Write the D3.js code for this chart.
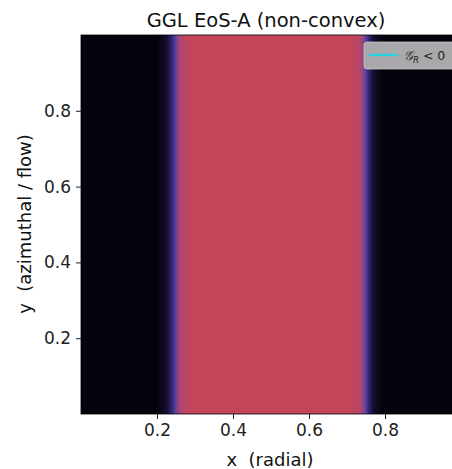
<!DOCTYPE html>
<html><head><meta charset="utf-8">
<script src="https://cdn.jsdelivr.net/npm/d3@7"></script>
<style>body{margin:0;background:#fff;} svg{display:block;font-family:"DejaVu Sans",sans-serif;} text{white-space:pre;}</style>
</head><body>
<svg id="c" width="452" height="469"></svg>
<script>
// radial profile of the field (varies only with x)
const profileX = [0, 0.2, 0.22, 0.238, 0.248, 0.256, 0.27, 0.29, 0.71, 0.73, 0.742, 0.75, 0.758, 0.774, 0.795, 1];
const profileV = [0, 0, 0.15, 0.4, 0.55, 0.7, 0.9, 1, 1, 0.9, 0.7, 0.55, 0.4, 0.15, 0, 0];
// colormap stops
const cmapV = [0, 0.25, 0.45, 0.55, 0.75, 1];
const cmapC = ["#04030c", "#191038", "#3a2a80", "#5540a0", "#a84678", "#c4455a"];
const xTicks = [0.2, 0.4, 0.6, 0.8];
const yTicks = [0.2, 0.4, 0.6, 0.8];
const titleText = "GGL EoS-A (non-convex)";
const xLabel = "x  (radial)";
const yLabel = "y  (azimuthal / flow)";
const legendLabel = "𝒢";

const svg = d3.select("#c");
const L = 81, T = 35, B = 414, R = 461;
const x = d3.scaleLinear().domain([0, 1]).range([L, R]);
const y = d3.scaleLinear().domain([0, 1]).range([B, T]);
const prof = d3.scaleLinear().domain(profileX).range(profileV).clamp(true);
const cmap = d3.scaleLinear().domain(cmapV).range(cmapC).interpolate(d3.interpolateRgb);

const defs = svg.append("defs");
const grad = defs.append("linearGradient").attr("id", "g")
  .attr("gradientUnits", "userSpaceOnUse")
  .attr("x1", x(0)).attr("x2", x(1)).attr("y1", 0).attr("y2", 0);
const N = 400;
grad.selectAll("stop").data(d3.range(N + 1)).join("stop")
  .attr("offset", i => i / N)
  .attr("stop-color", i => cmap(prof(i / N)));

svg.append("rect").attr("x", x(0)).attr("y", y(1))
  .attr("width", x(1) - x(0)).attr("height", y(0) - y(1))
  .attr("fill", "url(#g)").attr("stroke", "#000").attr("stroke-width", 0.8);

// axes
const xa = svg.append("g").attr("transform", `translate(0,${B})`)
  .call(d3.axisBottom(x).tickValues(xTicks).tickFormat(d3.format(".1f")).tickSize(5).tickPadding(5));
const ya = svg.append("g").attr("transform", `translate(${L},0)`)
  .call(d3.axisLeft(y).tickValues(yTicks).tickFormat(d3.format(".1f")).tickSize(5).tickPadding(5));
[xa, ya].forEach(a => {
  a.select(".domain").remove();
  a.selectAll("text").attr("font-size", 17).attr("fill", "#222").attr("font-family", "DejaVu Sans");
  a.selectAll("line").attr("stroke", "#222").attr("stroke-width", 1);
});

svg.append("text").attr("x", 266).attr("y", 27).attr("text-anchor", "middle")
  .attr("font-size", 19.5).attr("fill", "#111").text(titleText);
svg.append("text").attr("x", 270).attr("y", 466).attr("text-anchor", "middle")
  .attr("font-size", 18).attr("fill", "#111").text(xLabel);
svg.append("text").attr("transform", `translate(31,${224}) rotate(-90)`).attr("text-anchor", "middle")
  .attr("font-size", 18).attr("fill", "#111").text(yLabel);

// legend
const lg = svg.append("g");
lg.append("rect").attr("x", 364).attr("y", 42).attr("width", 95).attr("height", 27).attr("rx", 3)
  .attr("fill", "#a9a9ab").attr("stroke", "#c8c8c8").attr("stroke-width", 0.8);
lg.append("line").attr("x1", 369).attr("x2", 398).attr("y1", 55).attr("y2", 55)
  .attr("stroke", "#22d4e4").attr("stroke-width", 2.2);
const lt = lg.append("text").attr("x", 404).attr("y", 60).attr("font-size", 12.5).attr("fill", "#222");
lt.append("tspan").attr("font-style", "italic").text(legendLabel);
lt.append("tspan").attr("font-size", 8.5).attr("dy", 2.5).attr("font-style", "italic").text("R");
lt.append("tspan").attr("dy", -2.5).text(" < 0");
</script>
</body></html>
